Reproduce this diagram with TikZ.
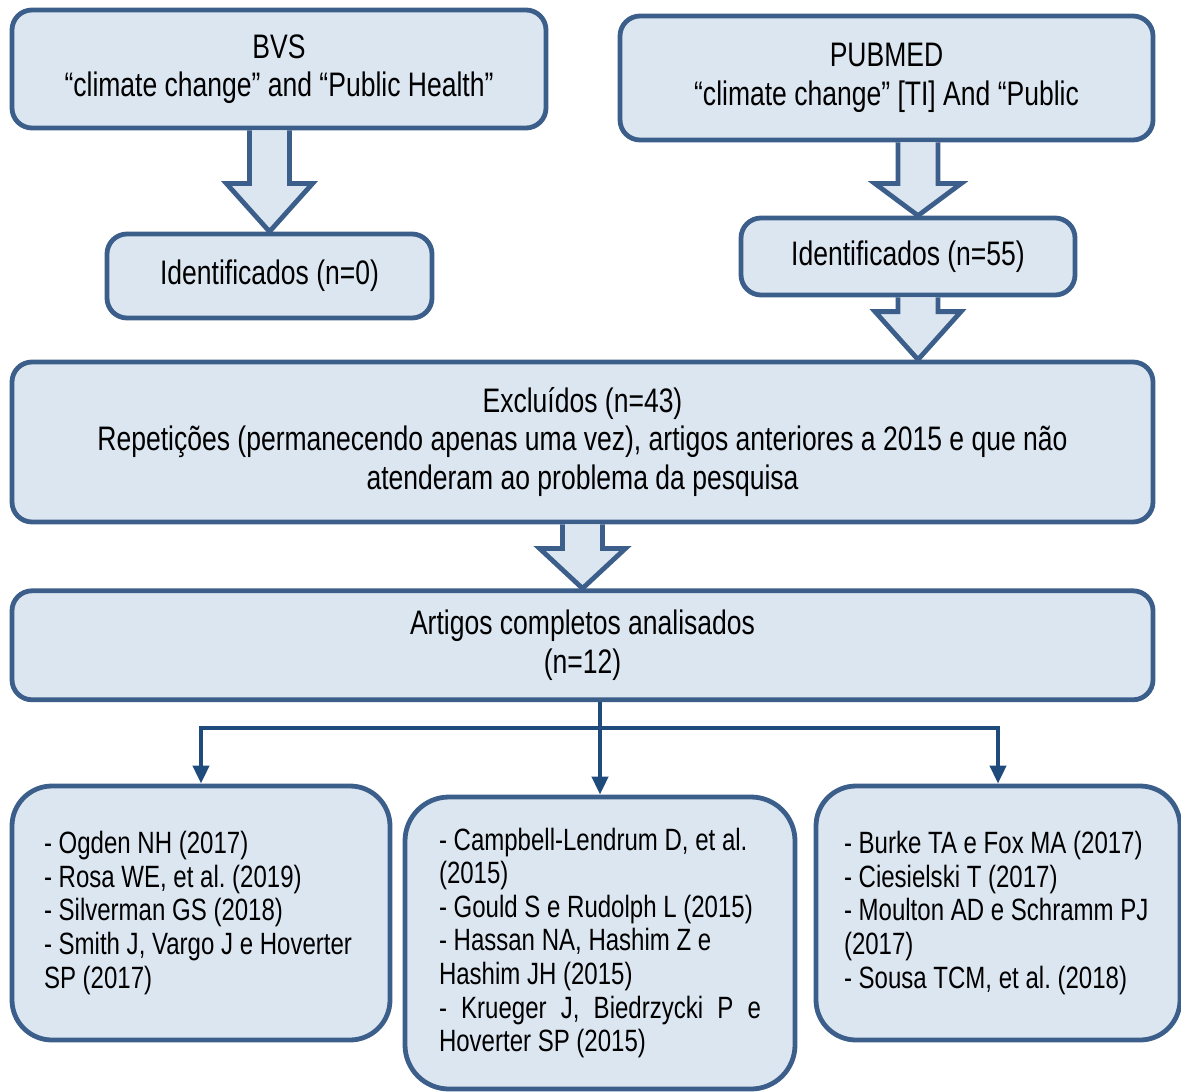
\documentclass[tikz,border=0pt]{standalone}
\usepackage{fontspec}
\setmainfont[FakeStretch=0.78]{Liberation Sans}
\usetikzlibrary{arrows.meta,calc}
\usetikzlibrary{positioning}
\definecolor{boxline}{HTML}{3B5E8A}
\definecolor{boxfill}{HTML}{DCE6F1}
\definecolor{linkline}{HTML}{1F4A7C}
\tikzset{
    box/.style={
           rectangle, rounded corners=10pt,
           draw=boxline, line width=2.4pt,
           fill=boxfill,
           align=center,
           inner sep=0pt,
           font=\fontsize{17}{19.3}\selectfont,
           },
}
\tikzset{
    refbox/.style={
           rectangle, rounded corners=20pt,
           draw=boxline, line width=2.4pt,
           fill=boxfill,
           align=flush left,
           inner sep=0pt,
           font=\fontsize{15.4}{16.8}\selectfont\frenchspacing,
           },
}
\tikzset{
    fat/.style={draw=boxline, line width=2.4pt, fill=boxfill, line join=miter},
    link/.style={draw=linkline, line width=2pt, -{Triangle[width=8pt,length=9pt]}},
}
\newcommand{\fatarrow}[3]{%
  \draw[fat] ($(#1)+(-20,0)$) -- ($(#2)+(-20,-#3)$) -- ($(#2)+(-43,-#3)$) -- (#2)
     -- ($(#2)+(43,-#3)$) -- ($(#2)+(20,-#3)$) -- ($(#1)+(20,0)$);}

\begin{document}
\begin{tikzpicture}[x=0.5pt,y=-0.5pt]
\useasboundingbox (0,0) rectangle (1181,1091);
\node[box,minimum width=267pt,minimum height=59pt](bvs) at (279,69){BVS\\“climate change” and “Public Health”};
\node[box,minimum width=266.5pt,minimum height=62pt](pubmed) at (886.5,78){PUBMED\\“climate change” [TI] And “Public};
\node[box,minimum width=162.5pt,minimum height=42pt](id0) at (269.5,276){Identificados (n=0)};
\node[box,minimum width=167pt,minimum height=38.5pt](id55) at (908,256.5){Identificados (n=55)};
\node[box,minimum width=570.5pt,minimum height=80pt](excl) at (582.5,442){Excluídos (n=43)\\Repetições (permanecendo apenas uma vez), artigos anteriores a 2015 e que não\\atenderam ao problema da pesquisa};
\node[box,minimum width=570.5pt,minimum height=54.5pt,below=32pt of excl](art){Artigos completos analisados\\(n=12)};
\node[refbox,text width=157pt,minimum width=189pt,minimum height=127pt](refL) at (201,913){- Ogden NH (2017)\\- Rosa WE, et al. (2019)\\- Silverman GS (2018)\\- Smith J, Vargo J e Hoverter\\SP (2017)};
\node[refbox,rounded corners=22pt,text width=161pt,minimum width=195pt,minimum height=146pt](refM) at (600,943){- Campbell-Lendrum D, et al.\\(2015)\\- Gould S e Rudolph L (2015)\\- Hassan NA, Hashim Z e\\Hashim JH (2015)\\\makebox[\linewidth][s]{- Krueger J, Biedrzycki P e}\\Hoverter SP (2015)};
\node[refbox,text width=154pt,minimum width=182pt,minimum height=127pt](refR) at (998,913){- Burke TA e Fox MA (2017)\\- Ciesielski T (2017)\\- Moulton AD e Schramm PJ\\(2017)\\- Sousa TCM, et al. (2018)};
\coordinate (a1s) at (bvs.south -| id0.north);
\fatarrow{a1s}{id0.north}{48}
\coordinate (a2t) at ($(id55.north)+(10,0)$);
\coordinate (a2s) at (pubmed.south -| a2t);
\fatarrow{a2s}{a2t}{32}
\coordinate (a3t) at (excl.north -| a2t);
\coordinate (a3s) at (id55.south -| a2t);
\fatarrow{a3s}{a3t}{48}
\fatarrow{excl.south}{art.north}{40}
\coordinate (split) at ($(art.south -| refM.north)+(0,26)$);
\draw[link] (art.south -| refM.north) -- (refM.north);
\draw[link] (split) -| (refL.north);
\draw[link] (split) -| (refR.north);
\end{tikzpicture}
\end{document}
